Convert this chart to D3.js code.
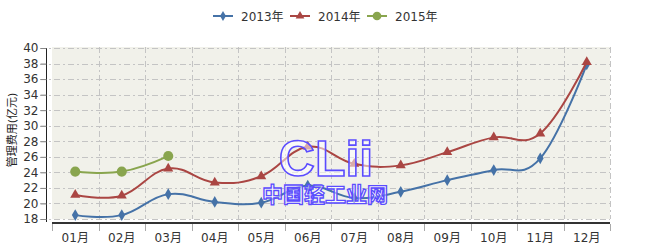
<!DOCTYPE html>
<html>
<head>
<meta charset="utf-8">
<script src="https://cdn.jsdelivr.net/npm/d3@7"></script>
<style>
  body { margin: 0; background: #fff; }
  svg { display: block; font-family: "DejaVu Sans", "Noto Sans CJK SC", sans-serif; }
</style>
</head>
<body>
<div id="chart"></div>
<script>
// Chart data
const months = ["01月", "02月", "03月", "04月", "05月", "06月", "07月", "08月", "09月", "10月", "11月", "12月"];
const yTicks = [18, 20, 22, 24, 26, 28, 30, 32, 34, 36, 38, 40];
const seriesNames = ["2013年", "2014年", "2015年"];
const values2013 = [18.5, 18.5, 21.2, 20.2, 20.1, 22.3, 20.7, 21.5, 23.0, 24.3, 25.8, 37.9];
const values2014 = [21.1, 21.0, 24.5, 22.7, 23.5, 27.3, 25.1, 24.9, 26.6, 28.5, 29.0, 38.2];
const values2015 = [24.1, 24.1, 26.1];

const W = 650, H = 251;
const plot = {left: 52, right: 610, top: 47, bottom: 219};

const svg = d3.select("#chart").append("svg")
    .attr("width", W).attr("height", H);

const x = d3.scaleBand().domain(months).range([plot.left, plot.right]);
const y = d3.scaleLinear().domain([18, 40]).range([plot.bottom, 48]);

// plot background
svg.append("rect")
    .attr("x", plot.left).attr("y", plot.top)
    .attr("width", plot.right - plot.left).attr("height", plot.bottom - plot.top)
    .attr("fill", "#f1f1ea");

const dash = "6,3,2,3";

// horizontal gridlines
svg.append("g").selectAll("line")
    .data(yTicks)
    .enter().append("line")
    .attr("x1", 40).attr("x2", plot.right)
    .attr("y1", d => Math.round(y(d)) + 0.5).attr("y2", d => Math.round(y(d)) + 0.5)
    .attr("stroke", "#c4c4c4").attr("stroke-dasharray", dash);

// vertical gridlines at band edges
const edges = months.map(m => x(m)).concat([plot.right]);
svg.append("g").selectAll("line")
    .data(edges.slice(1))
    .enter().append("line")
    .attr("x1", d => Math.round(d) + 0.5).attr("x2", d => Math.round(d) + 0.5)
    .attr("y1", plot.top).attr("y2", plot.bottom)
    .attr("stroke", "#c4c4c4").attr("stroke-dasharray", dash);

// y axis
const yAxis = svg.append("g").attr("transform", "translate(46.5,0)")
    .call(d3.axisLeft(y).tickValues(yTicks).tickSize(6).tickPadding(2));
yAxis.select(".domain").attr("stroke", "#222").attr("d", `M0,${y(40)}V${plot.bottom + 3}`);
yAxis.selectAll(".tick line").attr("stroke", "#888");
yAxis.selectAll("text").attr("fill", "#333").style("font-size", "12px")
    .style("font-family", "'DejaVu Sans', sans-serif");

// x axis
const xAxis = svg.append("g").attr("transform", "translate(0,223)");
xAxis.append("line")
    .attr("x1", plot.left).attr("x2", plot.right)
    .attr("stroke", "#333").attr("stroke-width", 2);
xAxis.selectAll(".xtick")
    .data(edges)
    .enter().append("line")
    .attr("x1", d => Math.round(d) + 0.5).attr("x2", d => Math.round(d) + 0.5)
    .attr("y1", 1).attr("y2", 8)
    .attr("stroke", "#aaa");
xAxis.selectAll("text")
    .data(months)
    .enter().append("text")
    .attr("x", d => x(d) + x.bandwidth() / 2)
    .attr("y", 19)
    .attr("text-anchor", "middle")
    .attr("fill", "#333")
    .style("font-size", "12px")
    .text(d => d);

// y axis title
svg.append("text")
    .attr("transform", "translate(16,130) rotate(-90)")
    .attr("text-anchor", "middle")
    .attr("fill", "#222")
    .style("font-size", "11px")
    .text("管理费用(亿元)");

// series
const series = [
    {name: seriesNames[0], values: values2013, color: "#4572a7", symbol: d3.symbolDiamond, size: 40},
    {name: seriesNames[1], values: values2014, color: "#aa4643", symbol: d3.symbolTriangle, size: 44},
    {name: seriesNames[2], values: values2015, color: "#89a54e", symbol: d3.symbolCircle, size: 80}
];

// looser spline, close to the original's smoothing
const line = d3.line()
    .x((d, i) => x(months[i]) + x.bandwidth() / 2)
    .y(d => y(d))
    .curve(d3.curveCardinal.tension(-0.2));

series.forEach(s => {
    const g = svg.append("g");
    g.append("path")
        .attr("d", line(s.values))
        .attr("fill", "none")
        .attr("stroke", s.color)
        .attr("stroke-width", 2);
    g.selectAll("path.pt")
        .data(s.values)
        .enter().append("path")
        .attr("class", "pt")
        .attr("transform", (d, i) => `translate(${x(months[i]) + x.bandwidth() / 2},${y(d)})`)
        .attr("d", d3.symbol().type(s.symbol).size(s.size))
        .attr("fill", s.color);
});

// watermark over the plot
const wm = svg.append("g");
wm.append("text")
    .attr("x", 326).attr("y", 176)
    .attr("text-anchor", "middle")
    .attr("fill", "#ffffff").attr("fill-opacity", 0.55)
    .attr("stroke", "#5b4cff").attr("stroke-width", 1.6)
    .style("font-size", "50px").style("font-weight", "bold")
    .style("font-family", "'Liberation Sans', Arial, sans-serif")
    .text("CLii");
wm.append("text")
    .attr("x", 325).attr("y", 202)
    .attr("text-anchor", "middle")
    .attr("fill", "#ffffff").attr("fill-opacity", 0.55)
    .attr("stroke", "#5b4cff").attr("stroke-width", 1.3)
    .style("font-size", "21px").style("font-weight", "bold")
    .style("font-family", "'Noto Sans CJK SC', sans-serif")
    .text("中国轻工业网");

// legend
const legend = svg.append("g").attr("transform", "translate(213,16)");
const legendX = [0, 77, 154];
series.forEach((s, i) => {
    const lg = legend.append("g").attr("transform", `translate(${legendX[i]},0)`);
    lg.append("line").attr("x1", 0).attr("x2", 20)
        .attr("stroke", s.color).attr("stroke-width", 2);
    lg.append("path")
        .attr("transform", "translate(10,0)")
        .attr("d", d3.symbol().type(s.symbol).size(s.size * 0.75))
        .attr("fill", s.color);
    lg.append("text")
        .attr("x", 28).attr("y", 4.5)
        .attr("fill", "#333")
        .style("font-size", "12px")
        .text(s.name);
});
</script>
</body>
</html>
